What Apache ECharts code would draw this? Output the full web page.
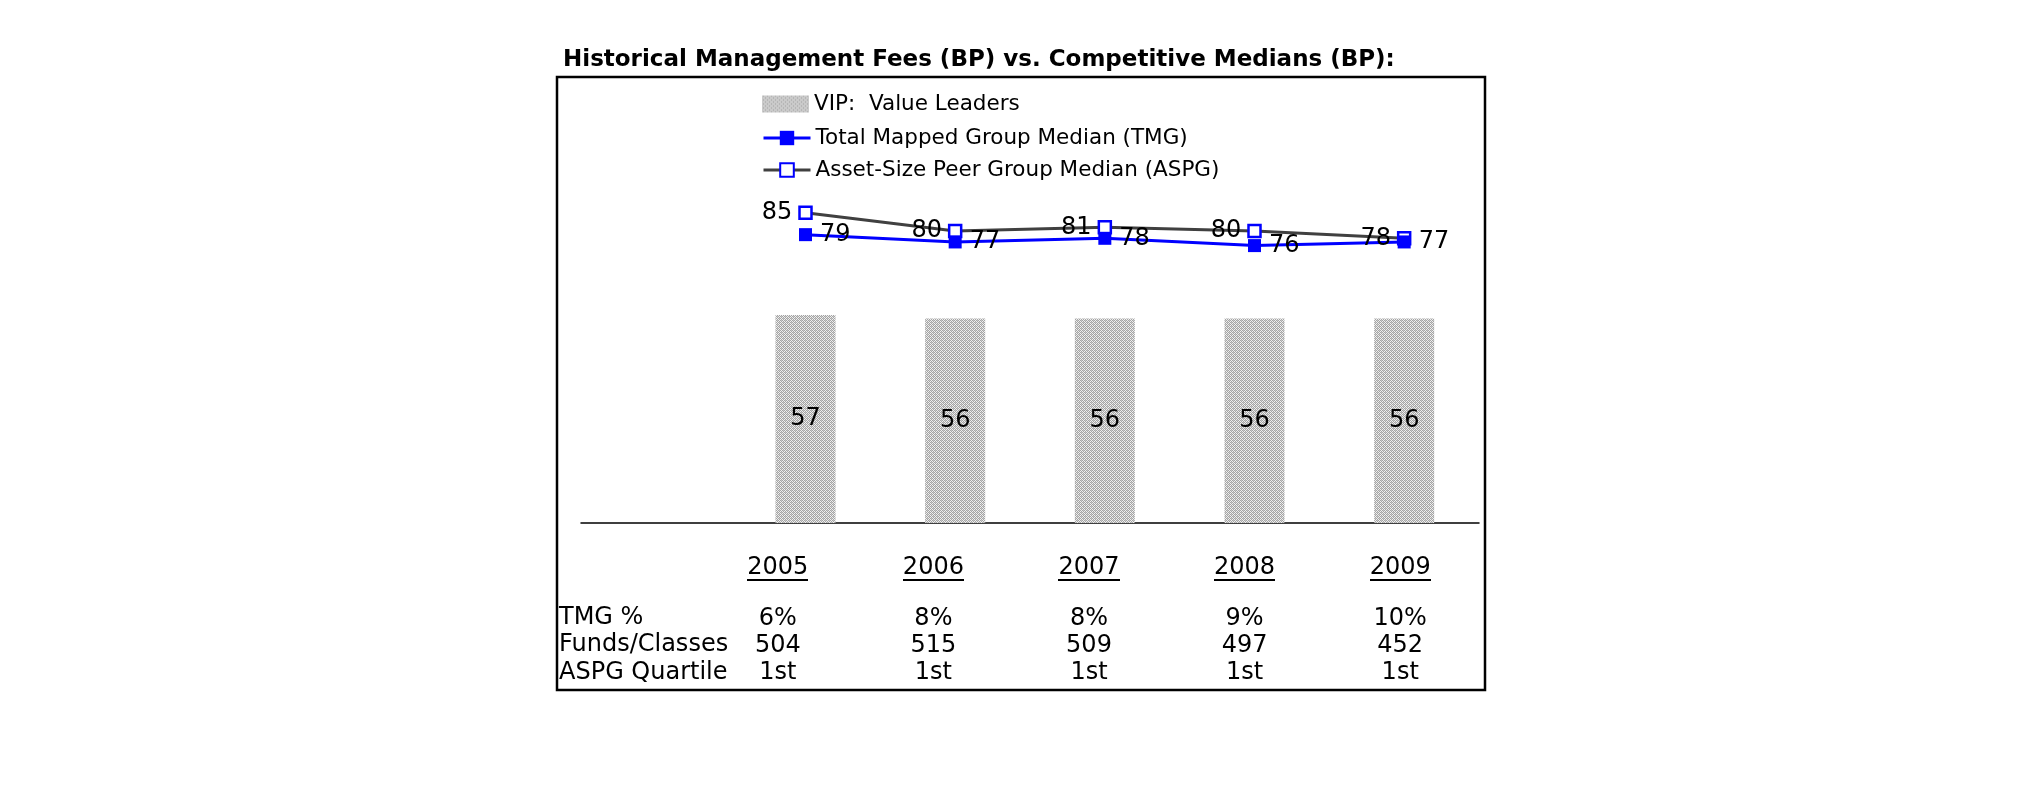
<!DOCTYPE html>
<html><head><meta charset="utf-8">
<script src="https://cdn.jsdelivr.net/npm/echarts@6/dist/echarts.min.js"></script>
<style>html,body{margin:0;padding:0;background:#fff}#c{width:2025px;height:806px}</style>
</head><body><div id="c"></div>
<script>
const years = ['2005', '2006', '2007', '2008', '2009'];
const vipValues = [57, 56, 56, 56, 56];
const tmgValues = [79, 77, 78, 76, 77];
const aspgValues = [85, 80, 81, 80, 78];
const tmgPct = ['6%', '8%', '8%', '9%', '10%'];
const fundsClasses = ['504', '515', '509', '497', '452'];
const aspgQuartile = ['1st', '1st', '1st', '1st', '1st'];
const rowLabels = ['TMG %', 'Funds/Classes', 'ASPG Quartile'];
const seriesNames = ['VIP:  Value Leaders', 'Total Mapped Group Median (TMG)', 'Asset-Size Peer Group Median (ASPG)'];
const titleText = 'Historical Management Fees (BP) vs. Competitive Medians (BP):';

const FONT = '"DejaVu Sans", Verdana, sans-serif';

function makePattern() {
  const c = document.createElement('canvas'); c.width = 4; c.height = 4;
  const g = c.getContext('2d');
  g.fillStyle = '#f0f0f0'; g.fillRect(0, 0, 4, 4);
  g.fillStyle = '#a4a4a4';
  for (let y = 0; y < 4; y++) for (let x = 0; x < 4; x++) if ((x + y) % 2 === 0) g.fillRect(x, y, 1, 1);
  g.fillStyle = '#c8c8c8';
  g.fillRect(1, 0, 1, 1); g.fillRect(3, 2, 1, 1);
  return c;
}
function makeUnderline() {
  const c = document.createElement('canvas'); c.width = 4; c.height = 26;
  const g = c.getContext('2d');
  g.fillStyle = '#000'; g.fillRect(0, 24, 4, 2);
  return c;
}
const pattern = { image: makePattern(), repeat: 'repeat' };
const underline = makeUnderline();

const tableText = { fontFamily: FONT, fontSize: 24, color: '#000' };
function tableAxis(data, margin, rich) {
  return {
    gridIndex: 1, type: 'category', data: data, position: 'bottom',
    axisLine: { show: false }, axisTick: { show: false }, splitLine: { show: false },
    axisLabel: Object.assign({ margin: margin, verticalAlign: 'middle', interval: 0 }, tableText, rich || {})
  };
}
const legendText = { fontFamily: FONT, fontSize: 21.5, color: '#000' };

const rowY = [618, 645, 673];

const chart = echarts.init(document.getElementById('c'));
chart.setOption({
  animation: false,
  backgroundColor: '#fff',
  title: {
    text: titleText, left: 563, top: 49, padding: 0,
    textStyle: { fontFamily: FONT, fontWeight: 'bold', fontSize: 23, color: '#000' }
  },
  legend: [
    { data: [{ name: seriesNames[0], icon: 'rect' }], left: 762, top: 93, padding: 0, itemWidth: 47, itemHeight: 17,
      textStyle: legendText },
    { data: [seriesNames[1]], left: 762, top: 127, padding: 0, itemWidth: 47, itemHeight: 18,
      lineStyle: { width: 3 }, textStyle: legendText },
    { data: [seriesNames[2]], left: 762, top: 159, padding: 0, itemWidth: 47, itemHeight: 17,
      lineStyle: { width: 3 }, textStyle: legendText }
  ],
  grid: [
    { left: 581, right: 546, top: 158, height: 365 },
    { left: 700, right: 547, top: 540, height: 10 }
  ],
  xAxis: [
    { gridIndex: 0, type: 'category', data: years, min: -1,
      axisLine: { show: true, lineStyle: { color: '#000', width: 1.5 } },
      axisTick: { show: false }, axisLabel: { show: false } },
    tableAxis(years, 18, { formatter: v => '{u|' + v + '}', rich: { u: Object.assign({ backgroundColor: { image: underline }, height: 26, lineHeight: 26 }, tableText) } }),
    tableAxis(tmgPct, 69),
    tableAxis(fundsClasses, 96),
    tableAxis(aspgQuartile, 123)
  ],
  yAxis: [
    { gridIndex: 0, type: 'value', min: 0, max: 100, show: false },
    { gridIndex: 1, type: 'value', min: 0, max: 1, show: false }
  ],
  series: [
    { name: seriesNames[0], type: 'bar', xAxisIndex: 0, yAxisIndex: 0, data: vipValues, barWidth: 60,
      itemStyle: { color: pattern },
      label: { show: true, position: 'inside', fontFamily: FONT, fontSize: 24, color: '#000' } },
    { name: seriesNames[2], type: 'line', xAxisIndex: 0, yAxisIndex: 0, data: aspgValues,
      symbol: 'rect', symbolSize: 12,
      lineStyle: { color: '#404040', width: 3 },
      itemStyle: { color: '#fff', borderColor: '#0000ff', borderWidth: 2.5 },
      label: { show: true, position: 'left', distance: 6, fontFamily: FONT, fontSize: 24, color: '#000' } },
    { name: seriesNames[1], type: 'line', xAxisIndex: 0, yAxisIndex: 0, data: tmgValues,
      symbol: 'rect', symbolSize: 13,
      lineStyle: { color: '#0000ff', width: 3 },
      itemStyle: { color: '#0000ff' },
      label: { show: true, position: 'right', distance: 8, fontFamily: FONT, fontSize: 24, color: '#000' } }
  ],
  graphic: [
    { type: 'rect', shape: { x: 557, y: 77, width: 928, height: 613 }, style: { fill: 'none', stroke: '#000', lineWidth: 2.5 }, silent: true }
  ].concat(rowLabels.map((t, i) => ({
    type: 'text', x: 559, y: rowY[i],
    style: { text: t, font: '24px ' + FONT, fill: '#000', verticalAlign: 'middle', textVerticalAlign: 'middle' }
  })))
});
</script></body></html>
